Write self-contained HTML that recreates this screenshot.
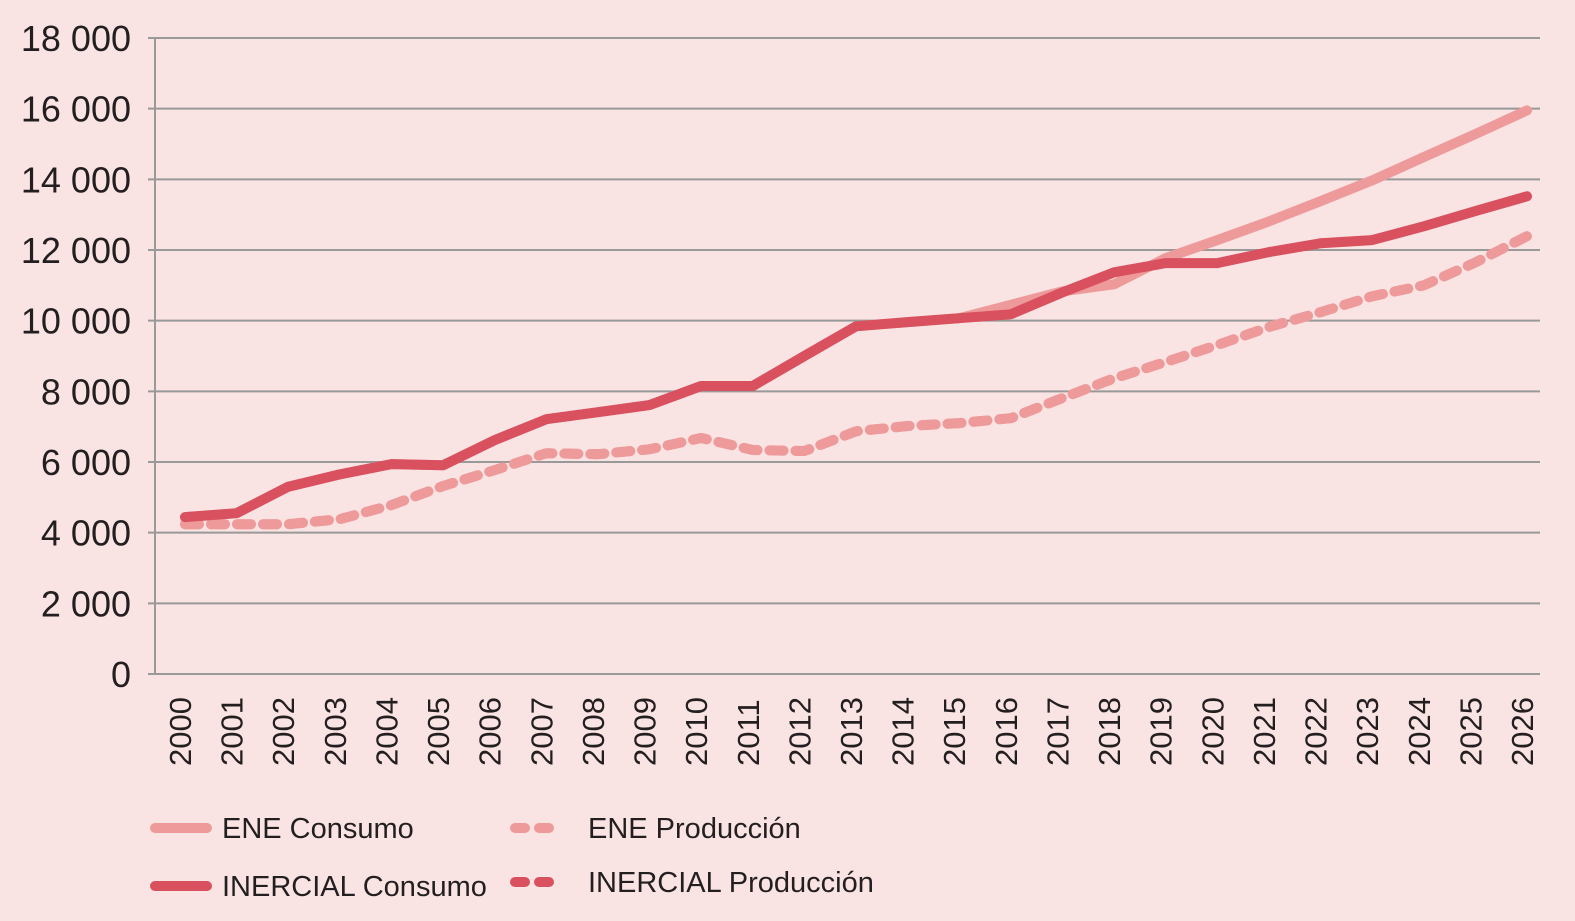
<!DOCTYPE html>
<html><head><meta charset="utf-8"><style>
html,body{margin:0;padding:0;background:#fae3e3;}
svg{display:block;font-family:"Liberation Sans",sans-serif;}
</style></head><body>
<svg id="chart" width="1575" height="921" viewBox="0 0 1575 921">
<rect width="1575" height="921" fill="#fae3e3"/>
<g id="grid"></g><g id="axes"></g><g id="series"></g><g id="legend"></g>
</svg>
<script>
const years = ["2000","2001","2002","2003","2004","2005","2006","2007","2008","2009","2010","2011","2012","2013","2014","2015","2016","2017","2018","2019","2020","2021","2022","2023","2024","2025","2026"];
const yTicks = [0,2000,4000,6000,8000,10000,12000,14000,16000,18000];
const yTickLabels = ["0","2 000","4 000","6 000","8 000","10 000","12 000","14 000","16 000","18 000"];
const eneConsumo = [4440,4550,5300,5650,5940,5910,6620,7210,7410,7610,8150,8150,9000,9840,9960,10070,10450,10830,11030,11770,12280,12810,13380,13970,14630,15280,15950];
const inercialConsumo = [4440,4550,5300,5650,5940,5910,6620,7210,7410,7610,8150,8150,9000,9840,9960,10070,10180,10800,11370,11630,11630,11940,12190,12280,12670,13100,13520];
const eneProduccion = [4240,4240,4240,4380,4780,5320,5770,6250,6220,6360,6680,6340,6310,6870,7020,7100,7240,7810,8370,8830,9310,9820,10240,10690,11000,11650,12390];
const inercialProduccion = [4240,4240,4240,4380,4780,5320,5770,6250,6220,6360,6680,6340,6310,6870,7020,7100,7240,7810,8370,8830,9310,9820,10240,10690,11000,11650,12390];

const NS="http://www.w3.org/2000/svg";
const x0=155,x1=1540,yBase=674,yTop=38;
const xs=i=>185+i*(1527-185)/(years.length-1);
const ys=v=>yBase-(v/18000)*(yBase-yTop);
function mk(tag,attrs,parent){const e=document.createElementNS(NS,tag);for(const k in attrs)e.setAttribute(k,attrs[k]);parent.appendChild(e);return e;}
const grid=document.getElementById('grid'),axes=document.getElementById('axes'),series=document.getElementById('series'),legend=document.getElementById('legend');

yTicks.forEach((v,i)=>{
  const y=ys(v);
  const l=mk('line',{x1:148,x2:x1,y1:y,y2:y,stroke:'#999',"stroke-width":2},grid);
  
  
  const t=mk('text',{x:131,y:y+13,"text-anchor":"end","font-size":36,fill:'#231f20'},axes);
  t.textContent=yTickLabels[i];
  
  
});
const ax=mk('line',{x1:x0,x2:x0,y1:yTop,y2:yBase,stroke:'#999',"stroke-width":2},axes);


years.forEach((yr,i)=>{
  const x=xs(i)-6;
  const t=mk('text',{x:0,y:0,transform:`translate(${x+12},766) rotate(-90)`,"font-size":31,fill:'#231f20'},axes);
  t.textContent=yr;
  
  
});

function path(arr){return arr.map((v,i)=>(i?'L':'M')+xs(i).toFixed(1)+' '+ys(v).toFixed(1)).join(' ');}
const sers=[
 {d:eneProduccion,c:'#ee9a9a',dash:'14 12',name:'series-ene-produccion'},
 {d:inercialProduccion,c:'#ee9a9a',dash:'14 12',name:'series-inercial-produccion'},
 {d:eneConsumo,c:'#ee9a9a',dash:null,name:'series-ene-consumo'},
 {d:inercialConsumo,c:'#d9505e',dash:null,name:'series-inercial-consumo'}
];
sers.forEach(s=>{
  const a={d:path(s.d),fill:'none',stroke:s.c,"stroke-width":10,"stroke-linejoin":"round","stroke-linecap":"round"};
  if(s.dash)a["stroke-dasharray"]=s.dash;
  const p=mk('path',a,series);
  
  
});

const leg=[
 {x:155,y:828,c:'#ee9a9a',dash:false,label:'ENE Consumo',tx:222},
 {x:515,y:828,c:'#ee9a9a',dash:true,label:'ENE Producción',tx:588},
 {x:155,y:886,c:'#d9505e',dash:false,label:'INERCIAL Consumo',tx:222},
 {x:515,y:882,c:'#d9505e',dash:true,label:'INERCIAL Producción',tx:588}
];
leg.forEach(L=>{
  const g=mk('g',{},legend);
  
  
  if(L.dash){
    mk('line',{x1:L.x,x2:L.x+10,y1:L.y,y2:L.y,stroke:L.c,"stroke-width":10,"stroke-linecap":"round"},g);
    mk('line',{x1:L.x+24,x2:L.x+34,y1:L.y,y2:L.y,stroke:L.c,"stroke-width":10,"stroke-linecap":"round"},g);
  } else {
    mk('line',{x1:L.x,x2:L.x+52,y1:L.y,y2:L.y,stroke:L.c,"stroke-width":10,"stroke-linecap":"round"},g);
  }
  const t=mk('text',{x:L.tx,y:L.y+10,"font-size":29,fill:'#231f20'},g);
  t.textContent=L.label;
});
</script>
</body></html>
